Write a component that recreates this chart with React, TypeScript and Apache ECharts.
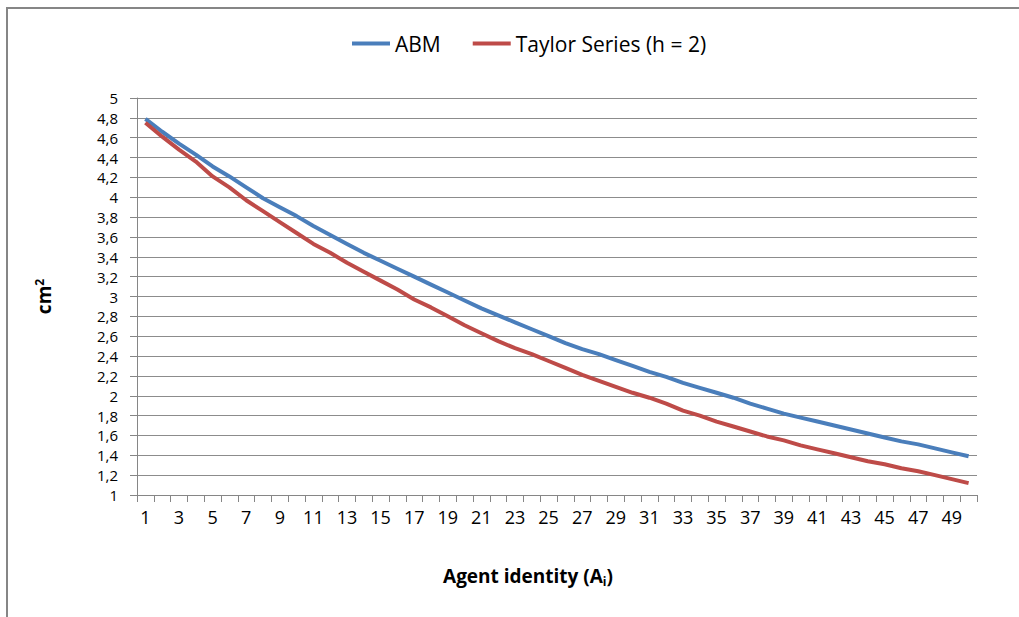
import React, { useEffect, useRef } from "react";
import * as echarts from "echarts";

const categories: string[] = Array.from({ length: 50 }, (_, i) => String(i + 1));

const abmValues: number[] = [
  4.79, 4.66, 4.54, 4.43, 4.31, 4.21, 4.1, 3.99, 3.9, 3.81,
  3.71, 3.62, 3.53, 3.44, 3.36, 3.28, 3.2, 3.12, 3.04, 2.96,
  2.88, 2.81, 2.74, 2.67, 2.6, 2.53, 2.47, 2.42, 2.36, 2.3,
  2.24, 2.19, 2.13, 2.08, 2.03, 1.98, 1.92, 1.87, 1.82, 1.78,
  1.74, 1.7, 1.66, 1.62, 1.58, 1.54, 1.51, 1.47, 1.43, 1.39,
];

const taylorValues: number[] = [
  4.75, 4.61, 4.48, 4.36, 4.21, 4.1, 3.97, 3.86, 3.75, 3.64,
  3.53, 3.44, 3.34, 3.25, 3.16, 3.07, 2.97, 2.89, 2.8, 2.71,
  2.63, 2.55, 2.48, 2.42, 2.35, 2.28, 2.21, 2.15, 2.09, 2.03,
  1.98, 1.92, 1.85, 1.8, 1.74, 1.69, 1.64, 1.59, 1.55, 1.5,
  1.46, 1.42, 1.38, 1.34, 1.31, 1.27, 1.24, 1.2, 1.16, 1.12,
];

const FONT = "'Open Sans', 'Noto Sans', sans-serif";

export default function App() {
  const ref = useRef<HTMLDivElement>(null);
  useEffect(() => {
    if (!ref.current) return;
    const chart = echarts.init(ref.current, null, { renderer: "svg" });
    chart.setOption({
      animation: false,
      backgroundColor: "#ffffff",
      textStyle: { fontFamily: FONT },
      graphic: [
        {
          type: "rect",
          shape: { x: 7, y: 8, width: 1100, height: 700 },
          style: { fill: "none", stroke: "#868686", lineWidth: 2 },
          silent: true,
        },
      ],
      legend: {
        top: 28,
        left: 347,
        itemWidth: 38,
        itemHeight: 4,
        itemGap: 32,
        icon: "rect",
        textStyle: { fontFamily: FONT, fontSize: 21, color: "#000" },
        data: ["ABM", "Taylor Series (h = 2)"],
      },
      grid: { left: 137, right: 42, top: 98, bottom: 122 },
      xAxis: {
        type: "category",
        data: categories,
        boundaryGap: true,
        axisLine: { lineStyle: { color: "#868686", width: 1 } },
        axisTick: { show: true, interval: 0, length: 7, lineStyle: { color: "#868686" } },
        axisLabel: { interval: 1, margin: 13, fontSize: 18, color: "#000", fontFamily: FONT },
        splitLine: { show: false },
        name: "Agent identity (A{sub|i})",
        nameLocation: "middle",
        nameGap: 70,
        nameTextStyle: {
          fontFamily: FONT,
          fontSize: 19,
          fontWeight: "bold",
          color: "#000",
          padding: [0, 58, 0, 0],
          rich: {
            sub: { fontSize: 12, fontWeight: "bold", verticalAlign: "bottom", padding: [10, 0, 0, 0], fontFamily: FONT },
          },
        },
      },
      yAxis: {
        type: "value",
        min: 1,
        max: 5,
        interval: 0.2,
        axisLine: { show: true, lineStyle: { color: "#868686", width: 1 } },
        axisTick: { show: true, length: 7, lineStyle: { color: "#868686" } },
        axisLabel: {
          fontSize: 15,
          lineHeight: 15,
          color: "#000",
          margin: 19,
          fontFamily: FONT,
          formatter: (v: number) => String(Math.round(v * 10) / 10).replace(".", ","),
        },
        splitLine: { show: true, lineStyle: { color: "#8c8c8c", width: 1 } },
        name: "cm{sup|2}",
        nameLocation: "middle",
        nameRotate: 90,
        nameGap: 82,
        nameTextStyle: {
          fontFamily: FONT,
          fontSize: 19,
          fontWeight: "bold",
          color: "#000",
          rich: {
            sup: { fontSize: 12, fontWeight: "bold", verticalAlign: "top", padding: [0, 0, 10, 0], fontFamily: FONT },
          },
        },
      },
      series: [
        {
          name: "ABM",
          type: "line",
          data: abmValues,
          symbol: "none",
          lineStyle: { color: "#4a7ebb", width: 4 },
          itemStyle: { color: "#4a7ebb" },
        },
        {
          name: "Taylor Series (h = 2)",
          type: "line",
          data: taylorValues,
          symbol: "none",
          lineStyle: { color: "#be4b48", width: 4 },
          itemStyle: { color: "#be4b48" },
        },
      ],
    });
    return () => chart.dispose();
  }, []);
  return (
    <div
      ref={ref}
      style={{ position: "fixed", left: 0, top: 0, width: 1019, height: 617 }}
    />
  );
}
